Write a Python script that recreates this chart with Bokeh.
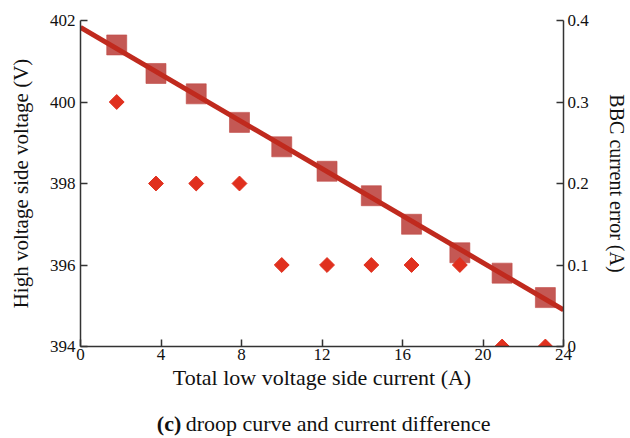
import math
from bokeh.plotting import figure
from bokeh.models import Range1d, LinearAxis, FixedTicker, Label
from bokeh.layouts import column
from bokeh.embed import file_html
from bokeh.resources import INLINE

# Data
current = [1.8, 3.75, 5.75, 7.9, 10.0, 12.25, 14.45, 16.45, 18.85, 20.95, 23.1]
voltage = [401.4, 400.7, 400.2, 399.5, 398.9, 398.3, 397.7, 397.0, 396.3, 395.8, 395.2]
current_error = [0.3, 0.2, 0.2, 0.2, 0.1, 0.1, 0.1, 0.1, 0.1, 0.0, 0.0]
droop_x = [0, 24]
droop_v = [401.83, 394.9]

x_ticks = [0, 4, 8, 12, 16, 20, 24]
v_ticks = [394, 396, 398, 400, 402]
e_ticks = [0, 0.1, 0.2, 0.3, 0.4]
e_labels = ["0", "0.1", "0.2", "0.3", "0.4"]
caption_tag = "(c)"
caption_text = "droop curve and current difference"

FONT = "Liberation Serif"
AX = "#333333"
W = 630
BL, BR = 80, 63  # frame borders (left/right) shared by both stacked figures

p = figure(width=W, height=396, output_backend="svg", toolbar_location=None,
           x_range=Range1d(0, 24), y_range=Range1d(394, 402),
           min_border_left=BL, min_border_right=BR, min_border_top=20,
           min_border_bottom=50)
p.extra_y_ranges = {"err": Range1d(0, 0.4)}
p.outline_line_color = None
p.xgrid.visible = False
p.ygrid.visible = False
p.background_fill_color = "white"
p.border_fill_color = "white"

right = LinearAxis(y_range_name="err")
p.add_layout(right, "right")

for ax in [p.xaxis[0], p.yaxis[0], right]:
    ax.axis_line_color = AX
    ax.axis_line_width = 1.5
    ax.major_tick_line_color = AX
    ax.major_tick_line_width = 1.5
    ax.major_tick_in = 7
    ax.major_tick_out = 0
    ax.minor_tick_line_color = None
    ax.major_label_text_font = FONT
    ax.major_label_text_font_size = "17px"
    ax.major_label_text_color = "#111111"
    ax.axis_label_text_font = FONT
    ax.axis_label_text_font_style = "normal"
    ax.axis_label_text_color = "#111111"

p.xaxis[0].ticker = FixedTicker(ticks=x_ticks)
p.yaxis[0].ticker = FixedTicker(ticks=v_ticks)
right.ticker = FixedTicker(ticks=e_ticks)
right.major_label_overrides = {t: l for t, l in zip(e_ticks, e_labels)}

p.xaxis[0].axis_label = "Total low voltage side current (A)"
p.yaxis[0].axis_label = "High voltage side voltage (V)"
right.axis_label = "BBC current error (A)"
p.xaxis[0].axis_label_text_font_size = "22px"
p.yaxis[0].axis_label_text_font_size = "21px"
right.axis_label_text_font_size = "20px"
p.xaxis[0].major_label_standoff = 2
p.xaxis[0].axis_label_standoff = 2
p.yaxis[0].major_label_standoff = 5
p.yaxis[0].axis_label_standoff = 14
right.major_label_standoff = 4
right.axis_label_standoff = 14

p.scatter(current, voltage, marker="square", size=20, fill_color="#bf4a45",
          fill_alpha=0.92, line_color="#bf4a45", line_alpha=0.6)
p.line(droop_x, droop_v, line_color="#c02a1e", line_width=5)
p.scatter(current, current_error, y_range_name="err", marker="square",
          angle=math.pi / 4, size=10.5, fill_color="#e0301e", line_color="#e0301e")

# caption strip: frame spans the same columns as the main frame, data units = page pixels
CAP_H = 41
cap = figure(width=W, height=CAP_H, output_backend="svg", toolbar_location=None,
             x_range=Range1d(BL, W - BR), y_range=Range1d(0, CAP_H),
             x_axis_type=None, y_axis_type=None,
             min_border_left=BL, min_border_right=BR,
             min_border_top=0, min_border_bottom=0)
cap.outline_line_color = None
cap.background_fill_color = "white"
cap.border_fill_color = "white"
cap.add_layout(Label(x=157, y=14, text=caption_tag, text_font=FONT,
                     text_font_size="22px", text_font_style="bold",
                     text_color="#111111", text_baseline="alphabetic"))
cap.add_layout(Label(x=186, y=14, text=caption_text, text_font=FONT,
                     text_font_size="22px", text_color="#111111",
                     text_baseline="alphabetic"))

layout = column(p, cap, spacing=0)
open("out.html", "w").write(file_html(layout, INLINE))
